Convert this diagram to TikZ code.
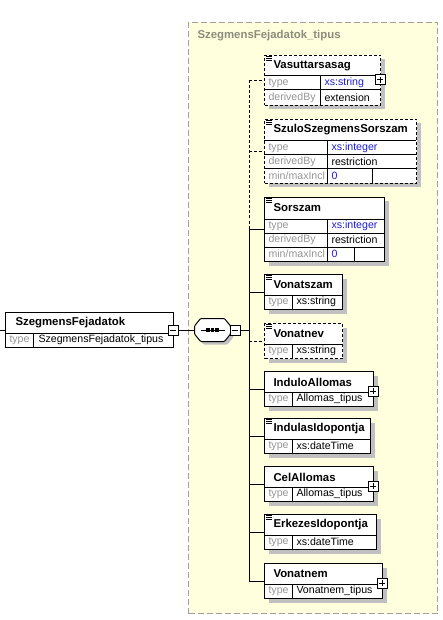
\documentclass[tikz,border=0pt]{standalone}
\usepackage{fontspec}
\setmainfont{Liberation Sans}
\usetikzlibrary{shadows}
\definecolor{typefill}{RGB}{255,255,221}
\definecolor{framegray}{RGB}{160,160,160}
\definecolor{shadowgray}{RGB}{192,192,192}
\definecolor{keygray}{RGB}{150,150,150}
\definecolor{xsblue}{RGB}{30,30,210}
\definecolor{tipusgray}{RGB}{140,140,125}

\begin{document}
\begin{tikzpicture}[x=1pt, y=-1pt, line width=1pt,
      font=\fontsize{10.6}{12}\selectfont,
      elem/.style={draw, fill=white, inner sep=0pt, anchor=north west,
                   drop shadow={shadow xshift=4pt, shadow yshift=-4pt,
                                fill=shadowgray, opacity=1}},
      opt/.style={dash pattern=on 3pt off 2pt},
      ttl/.style={anchor=west, inner sep=0pt,
                  font=\fontsize{11.4}{13}\selectfont\bfseries},
      key/.style={anchor=west, inner sep=0pt, text=keygray},
      val/.style={anchor=west, inner sep=0pt},
      xsval/.style={val, text=xsblue},
      pmbox/.style={draw, solid, fill=white, minimum size=10pt, inner sep=0pt},
      minusbox/.style={pmbox, path picture={
          \draw ([xshift=2pt]path picture bounding box.west)
             -- ([xshift=-2pt]path picture bounding box.east);}},
      plusbox/.style={pmbox, path picture={
          \draw ([xshift=2pt]path picture bounding box.west)
             -- ([xshift=-2pt]path picture bounding box.east)
                ([yshift=-2pt]path picture bounding box.north)
             -- ([yshift=2pt]path picture bounding box.south);}}
    ]
    \useasboundingbox (0,0) rectangle (443,620);

    % complex type area
    \node[draw=framegray, fill=typefill, dash pattern=on 6pt off 3pt,
          inner sep=0pt, anchor=north west, minimum width=249,
          minimum height=591] (tipus) at (188,22) {};
    \node[ttl, text=tipusgray] (tipus-t) at (197,36) {SzegmensFejadatok\_tipus};

    % root element
    \node[draw, fill=white, inner sep=0pt, anchor=north west,
          minimum width=168, minimum height=35] (fejadatok) at (5,312) {};
    \draw (5,333) -- (173,333) (33,333) -- (33,347);
    \node[ttl] (fejadatok-t) at (15,323) {SzegmensFejadatok};
    \node[key] (fejadatok-k) at (9,340) {type};
    \node[val] (fejadatok-v) at (38,340) {SzegmensFejadatok\_tipus};
    \node[minusbox] (fejadatok-m) at (173,330) {};
    \coordinate (entry) at (0,330);
    \draw (entry) -- (fejadatok.west);

    % sequence compositor
    \node[inner sep=0pt, minimum width=35, minimum height=22] (seq) at (212.5,330) {};
    \draw[fill=white, rounded corners=1pt,
          drop shadow={shadow xshift=3pt, shadow yshift=-3pt,
                       fill=shadowgray, opacity=1}]
      ([yshift=4pt]seq.west) -- ([xshift=6pt]seq.north west)
      -- ([xshift=-6pt]seq.north east) -- ([yshift=4pt]seq.east)
      -- ([yshift=-4pt]seq.east) -- ([xshift=-6pt]seq.south east)
      -- ([xshift=6pt]seq.south west) -- ([yshift=-4pt]seq.west) -- cycle;
    \draw ([xshift=6pt]seq.west) -- ([xshift=-6pt]seq.east);
    \foreach \dx in {-4.5,0,4.5}
      \fill ([xshift=\dx pt]seq.center) ++(-1.6,-1.6) rectangle ++(3.2,3.2);
    \node[minusbox] (seq-m) at (235,330) {};
    \draw (fejadatok-m.east) -- (seq.west);
    \coordinate (bus) at (249,330);
    \draw (seq-m.east) -- (bus);

    % Vasuttarsasag
    \node[elem, opt, minimum width=116, minimum height=50] (vasut) at (264,55) {};
    \draw (264,76) -- (380,76) (264,90) -- (380,90) (320,76) -- (320,105);
    \node[ttl] (vasut-t) at (273,66) {Vasuttarsasag};
    \node[key] at (268,83) {type};
    \node[xsval] at (324,83) {xs:string};
    \node[key] at (268,97.5) {derivedBy};
    \node[val] at (324,97.5) {extension};
    \node[plusbox] (vasut-p) at (380,80) {};
    \draw[line width=0.8pt] (266,56) -- ++(6,0) (266,58) -- ++(6,0) (266,60) -- ++(6,0);

    % SzuloSzegmensSorszam
    \node[elem, opt, minimum width=152, minimum height=64] (szulo) at (264,119) {};
    \draw (264,141) -- (416,141) (264,155) -- (416,155) (264,169) -- (416,169)
          (327,141) -- (327,183) (372,169) -- (372,183);
    \node[ttl] (szulo-t) at (273,130) {SzuloSzegmensSorszam};
    \node[key] at (268,148) {type};
    \node[xsval] at (331,148) {xs:integer};
    \node[key] at (268,162) {derivedBy};
    \node[val] at (331,162) {restriction};
    \node[key] at (268,176) {min/maxIncl};
    \node[xsval] at (331,176) {0};
    \draw[line width=0.8pt] (266,120) -- ++(6,0) (266,122) -- ++(6,0) (266,124) -- ++(6,0);

    % Sorszam
    \node[elem, minimum width=120, minimum height=64] (sorszam) at (264,197) {};
    \draw (264,219) -- (384,219) (264,233) -- (384,233) (264,247) -- (384,247)
          (327,219) -- (327,261) (354,247) -- (354,261);
    \node[ttl] (sorszam-t) at (273,208) {Sorszam};
    \node[key] at (268,226) {type};
    \node[xsval] at (331,226) {xs:integer};
    \node[key] at (268,240) {derivedBy};
    \node[val] at (331,240) {restriction};
    \node[key] at (268,254) {min/maxIncl};
    \node[xsval] at (331,254) {0};
    \draw[line width=0.8pt] (266,198) -- ++(6,0) (266,200) -- ++(6,0) (266,202) -- ++(6,0);

    % elements with one type row
    \foreach \n/\y/\w/\t/\v/\d/\s/\p in {
        vonatszam/274/78/Vonatszam/xs:string/1/solid/0,
        vonatnev/323/78/Vonatnev/xs:string/1/opt/0,
        indulo/371/109/InduloAllomas/Allomas\_tipus/0/solid/1,
        indulas/418/106/IndulasIdopontja/xs:dateTime/1/solid/0,
        cel/466/109/CelAllomas/Allomas\_tipus/0/solid/1,
        erkezes/514/112/ErkezesIdopontja/xs:dateTime/1/solid/0,
        vonatnem/563/118/Vonatnem/Vonatnem\_tipus/0/solid/1}{
      \node[elem, \s, minimum width=\w, minimum height=35] (\n) at (264,\y) {};
      \draw (264,\y+21) -- (264+\w,\y+21) (292,\y+21) -- (292,\y+35);
      \node[ttl] (\n-t) at (273,\y+11) {\t};
      \node[key] at (268,\y+28) {type};
      \node[val] at (296,\y+28) {\v};
      \ifnum\d=1
        \draw[line width=0.8pt] (266,\y+1) -- ++(6,0) (266,\y+3) -- ++(6,0)
                                (266,\y+5) -- ++(6,0);
      \fi
      \ifnum\p=1
        \node[plusbox] (\n-p) at (264+\w,\y+20) {};
      \fi
    }

    % connectors
    \foreach \n in {vasut,szulo,vonatnev}
      \draw[opt] (bus |- \n.west) -- (\n.west);
    \foreach \n in {sorszam,vonatszam,indulo,indulas,cel,erkezes,vonatnem}
      \draw (bus |- \n.west) -- (\n.west);
    \draw[opt] (bus |- vasut.west) -- (bus |- sorszam.west);
    \draw (bus |- sorszam.west) -- (bus |- vonatnem.west);
  \end{tikzpicture}
\end{document}
